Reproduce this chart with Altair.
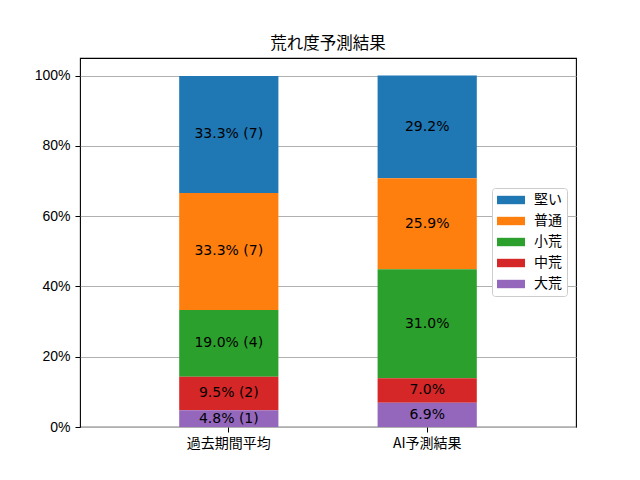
import altair as alt
import pandas as pd

categories = ["過去期間平均", "AI予測結果"]
levels = ["堅い", "普通", "小荒", "中荒", "大荒"]
colors = ["#1f77b4", "#ff7f0e", "#2ca02c", "#d62728", "#9467bd"]
past_pct = [33.3, 33.3, 19.0, 9.5, 4.8]
past_cnt = [7, 7, 4, 2, 1]
ai_pct = [29.2, 25.9, 31.0, 7.0, 6.9]

rows = []
for i, lv in enumerate(levels):
    rows.append({"cat": categories[0], "level": lv, "idx": i, "pct": past_pct[i],
                 "label": f"{past_pct[i]:.1f}% ({past_cnt[i]})"})
    rows.append({"cat": categories[1], "level": lv, "idx": i, "pct": ai_pct[i],
                 "label": f"{ai_pct[i]:.1f}%"})
df = pd.DataFrame(rows)

JP = "Noto Sans CJK JP"

base = alt.Chart(df).transform_stack(
    stack="pct", as_=["y0", "y1"], groupby=["cat"],
    sort=[alt.SortField("idx", order="descending")]
).transform_calculate(mid="(datum.y0 + datum.y1) / 2")

x_enc = alt.X("cat:N", sort=categories, title=None,
              scale=alt.Scale(paddingInner=0.5, paddingOuter=0.5),
              axis=alt.Axis(labelAngle=0, labelFont=JP, labelFontSize=14,
                            labelColor="black", tickColor="black", tickSize=5,
                            labelPadding=4, domain=False, grid=False))

bars = base.mark_bar().encode(
    x=x_enc,
    y=alt.Y("y0:Q", title=None,
            scale=alt.Scale(domain=[0, 105], nice=False, zero=True),
            axis=alt.Axis(values=[0, 20, 40, 60, 80, 100],
                          labelExpr="datum.value + '%'",
                          labelFont="Liberation Sans", labelFontSize=14,
                          labelColor="black", tickColor="black", tickSize=5,
                          labelPadding=5, domain=False, grid=True,
                          gridColor="#b0b0b0", gridWidth=1)),
    y2="y1:Q",
    color=alt.Color("level:N", scale=alt.Scale(domain=levels, range=colors),
                    title=None,
                    legend=alt.Legend(orient="none", legendX=412, legendY=130,
                                      symbolType="M-2,-0.6H2V0.6H-2Z",
                                      symbolSize=196, symbolOffset=7,
                                      symbolStrokeWidth=0, symbolOpacity=1,
                                      labelFont=JP, labelFontSize=14,
                                      labelColor="black", labelOffset=16,
                                      rowPadding=7, padding=5,
                                      strokeColor="#cccccc", fillColor="white",
                                      cornerRadius=3)),
)

texts = base.mark_text(font="DejaVu Sans", fontSize=14, color="black",
                       baseline="middle").encode(
    x=alt.X("cat:N", sort=categories),
    y=alt.Y("mid:Q"),
    text="label:N",
)

chart = alt.layer(bars, texts).properties(
    width=496, height=369,
    title=alt.Title("荒れ度予測結果", font=JP, fontSize=16.5,
                    fontWeight="normal", color="black", offset=6),
    autosize=alt.AutoSizeParams(type="none"),
    padding={"left": 72, "top": 50, "right": 56, "bottom": 45},
).configure_view(stroke="black", strokeWidth=1.1)

chart.save("out.html", embed_options={"renderer": "svg", "actions": False})
